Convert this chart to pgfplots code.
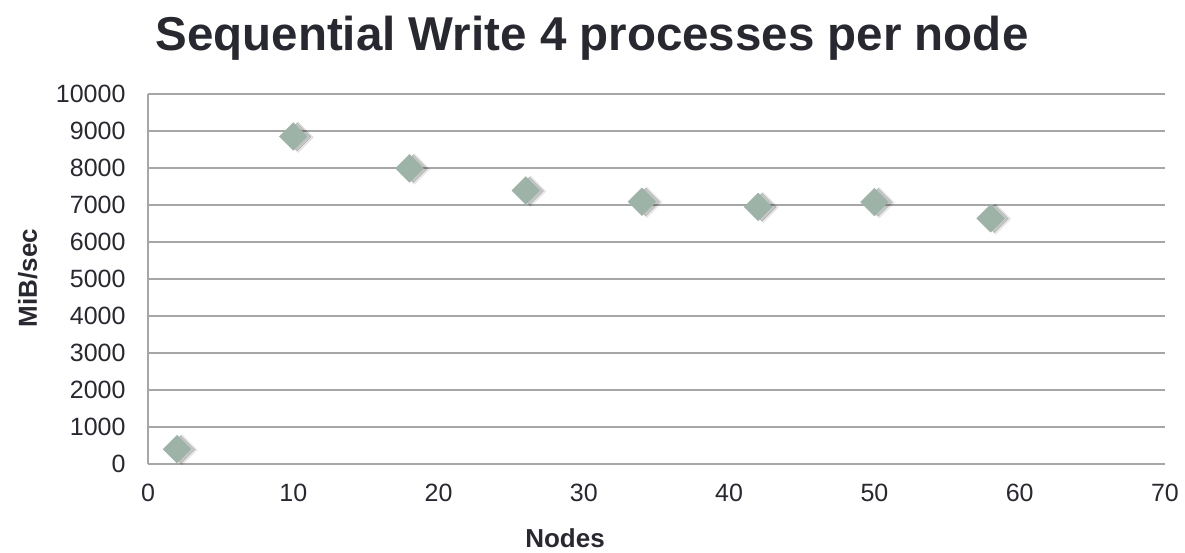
\documentclass[border=0pt]{standalone}
\usepackage{pgfplots}
\pgfplotsset{compat=1.18}
\usepackage{fontspec}
\setmainfont{Liberation Sans}
\definecolor{txt}{RGB}{40,40,48}
\definecolor{gridc}{RGB}{166,166,166}
\definecolor{markc}{RGB}{158,179,168}

\pgfplotstableread{
nodes mibs
2   400
10  8850
18  7990
26  7390
34  7090
42  6950
50  7080
58  6640
}\writedata

\begin{document}
\begin{tikzpicture}
\path[use as bounding box] (-148pt,-89pt) rectangle (1037pt,464pt);
\begin{axis}[
  scale only axis,
  width=1017pt, height=370pt,
  xmin=0, xmax=70, ymin=0, ymax=10000,
  xtick={0,10,...,70},
  ytick={0,1000,...,10000},
  scaled ticks=false,
  axis lines*=left,
  axis line style={gridc, line width=2pt},
  major tick length=0pt,
  ymajorgrids,
  grid style={gridc, line width=2pt},
  tick label style={font=\fontsize{25}{30}\selectfont, text=txt},
  /pgf/number format/assume math mode=true,
  /pgf/number format/.cd, 1000 sep={}, /pgfplots/.cd,
  xticklabel style={yshift=-17pt},
  yticklabel style={xshift=-19pt},
  clip=false,
]
% soft shadow under each marker
\addplot[only marks, color=black, mark=square*, mark size=10.8pt,
  mark options={rotate=45, draw=none, fill=black, opacity=0.08, xshift=3pt, yshift=-4pt}]
  table[x=nodes, y=mibs] {\writedata};
\addplot[only marks, color=black, mark=square*, mark size=9.9pt,
  mark options={rotate=45, draw=none, fill=black, opacity=0.16, xshift=2.5pt, yshift=-3pt}]
  table[x=nodes, y=mibs] {\writedata};
% markers
\addplot[only marks, color=markc, mark=square*, mark size=9.8pt,
  mark options={rotate=45, draw=none, fill=markc}]
  table[x=nodes, y=mibs] {\writedata};
\end{axis}
\node[anchor=base, inner sep=0pt, font=\fontsize{47.5}{57}\selectfont\bfseries, text=txt]
  at (444pt,413pt) {Sequential Write 4 processes per node};
\node[anchor=base, inner sep=0pt, font=\fontsize{26}{31}\selectfont\bfseries, text=txt]
  at (417pt,-84pt) {Nodes};
\node[anchor=base, inner sep=0pt, rotate=90, font=\fontsize{26}{31}\selectfont\bfseries, text=txt]
  at (-111pt,186pt) {MiB/sec};
\end{tikzpicture}
\end{document}
